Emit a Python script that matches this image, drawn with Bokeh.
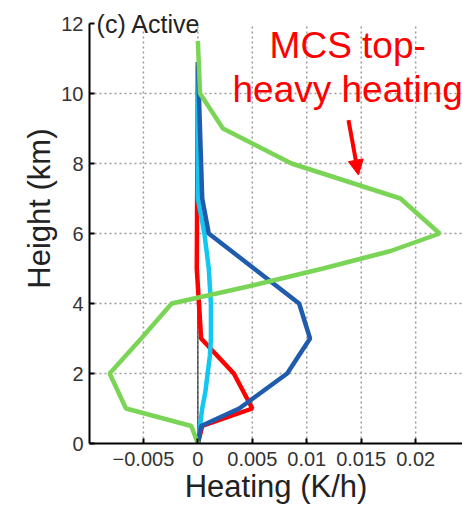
from bokeh.plotting import figure
from bokeh.models import Range1d, FixedTicker, Label, Arrow, NormalHead, Title
from bokeh.embed import file_html
from bokeh.resources import INLINE

# ---- data (height in km, heating in K/h) ----
green_h = [11.5, 10.0, 9.0, 8.0, 7.0, 6.0, 5.5, 5.0, 4.5, 4.0, 3.0, 2.0, 1.0, 0.5, 0.0]
green_q = [0.0, 0.0002, 0.0023, 0.0086, 0.0186, 0.0222, 0.0177, 0.0115, 0.0048, -0.0024, -0.0052, -0.0081, -0.0066, -0.0006, 0.0]

blue_h = [10.9, 7.0, 6.0, 4.0, 3.0, 2.0, 1.0, 0.5, 0.0]
blue_q = [0.0, 0.0004, 0.0010, 0.0093, 0.0103, 0.0082, 0.0038, 0.0003, 0.0]

red_h = [10.8, 5.0, 4.0, 3.0, 2.0, 1.0, 0.5, 0.0]
red_q = [0.0, -0.0001, 0.0001, 0.0003, 0.0033, 0.0050, 0.0004, 0.0]

cyan_h = [10.9, 7.0, 6.5, 6.0, 5.5, 5.0, 4.5, 4.0, 3.0, 2.5, 2.0, 1.5, 1.0, 0.5, 0.0]
cyan_q = [0.0, 0.0, 0.0003, 0.0006, 0.0008, 0.0010, 0.0011, 0.0012, 0.0012, 0.0011, 0.0009, 0.0007, 0.0004, 0.0002, 0.0]

zero_h = [0.0, 11.5]
zero_q = [0.0, 0.0]

x_ticks = [-0.005, 0.0, 0.005, 0.01, 0.015, 0.02]
x_tick_labels = ["\u22120.005", "0", "0.005", "0.01", "0.015", "0.02"]
y_ticks = [0, 2, 4, 6, 8, 10, 12]
y_grid = [2, 4, 6, 8, 10]
y_min, y_max = 0, 12

FONT = "Liberation Sans"

# frame reaches the top of the canvas; the axis itself stops at 12 km
p = figure(width=462, height=508,
           x_range=Range1d(-0.00995, 0.0243), y_range=Range1d(y_min, y_max + 23 / 35),
           output_backend="svg", toolbar_location=None,
           min_border_left=89, min_border_right=0,
           min_border_top=0, min_border_bottom=65)
p.outline_line_color = None
p.background_fill_color = "white"
p.border_fill_color = "white"

# axes
for ax in (p.xaxis[0], p.yaxis[0]):
    ax.axis_line_width = 2
    ax.axis_line_color = "black"
    ax.major_tick_in = 5
    ax.major_tick_out = 0
    ax.major_tick_line_width = 2
    ax.major_tick_line_color = "black"
    ax.minor_tick_line_color = None
    ax.major_label_text_font = FONT
    ax.major_label_text_font_size = "20px"
    ax.major_label_text_color = "#333333"

p.xaxis.ticker = FixedTicker(ticks=x_ticks)
p.xaxis.major_label_overrides = {t: l for t, l in zip(x_ticks, x_tick_labels)}
p.xaxis.major_label_standoff = 8
p.xaxis.axis_label = "Heating (K/h)"
p.xaxis.axis_label_standoff = 0
p.xaxis.axis_label_text_font = FONT
p.xaxis.axis_label_text_font_size = "31px"
p.xaxis.axis_label_text_font_style = "normal"
p.xaxis.axis_label_text_color = "#222222"

p.yaxis.ticker = FixedTicker(ticks=y_ticks)
p.yaxis.bounds = (y_min, y_max)
p.yaxis.major_label_standoff = 6

# y axis title (placed as a side title so that it can be offset)
p.add_layout(Title(text="Height (km)", align="right", offset=128,
                   text_font=FONT, text_font_size="31px",
                   text_font_style="normal", text_color="#222222",
                   standoff=4), "left")

# grid: horizontal via the grid, vertical as dotted segments ending at 12 km
p.xgrid.visible = False
p.ygrid.ticker = FixedTicker(ticks=y_grid)
p.ygrid.grid_line_color = "#9a9a9a"
p.ygrid.grid_line_dash = "2 3"
p.ygrid.grid_line_width = 1.5
p.segment(x0=x_ticks, y0=[y_min] * len(x_ticks), x1=x_ticks, y1=[y_max] * len(x_ticks),
          line_color="#9a9a9a", line_dash="2 3", line_width=1.5)

# lines
p.line(zero_q, zero_h, line_color="#333333", line_width=1.2)
p.line(red_q, red_h, line_color="#ff0000", line_width=4.5)
p.line(cyan_q, cyan_h, line_color="#12c8f0", line_width=4.5)
p.line(blue_q, blue_h, line_color="#1f5cad", line_width=4.5)
p.line(green_q, green_h, line_color="#7ad455", line_width=4.5)

# texts
p.add_layout(Label(x=-0.0093, y=12.0, text="(c) Active", text_font=FONT,
                   text_font_size="25px", text_color="#222222",
                   text_baseline="alphabetic", text_align="left"))
p.add_layout(Label(x=0.01376, y=11.36, text="MCS top-", text_font=FONT,
                   text_font_size="37px", text_color="#ff0000",
                   text_baseline="alphabetic", text_align="center"))
p.add_layout(Label(x=0.01376, y=10.11, text="heavy heating", text_font=FONT,
                   text_font_size="37px", text_color="#ff0000",
                   text_baseline="alphabetic", text_align="center"))
p.add_layout(Arrow(end=NormalHead(size=15, fill_color="#ff0000", line_color="#ff0000"),
                   x_start=0.01383, y_start=9.24, x_end=0.01475, y_end=7.67,
                   line_color="#ff0000", line_width=4))

open("out.html", "w").write(file_html(p, INLINE))
